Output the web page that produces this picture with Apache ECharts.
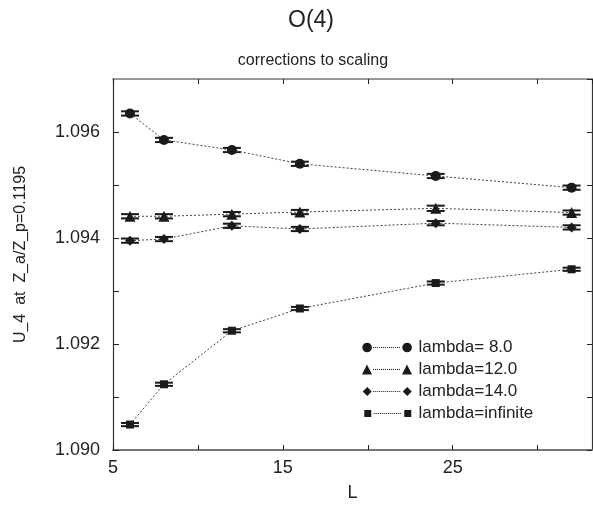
<!DOCTYPE html>
<html>
<head>
	<meta charset="UTF-8">
	<title>O(4) corrections to scaling</title>
	<script src="https://cdn.jsdelivr.net/npm/echarts@6/dist/echarts.min.js"></script>
	<style>
		html, body { margin: 0; padding: 0; background: #fff; }
		#chart { width: 593px; height: 507px; }
	</style>
</head>
<body>
<div id="chart"></div>
<script type="text/javascript">
// lattice sizes
var sizes = [6, 8, 12, 16, 24, 32];
var names = ['lambda= 8.0', 'lambda=12.0', 'lambda=14.0', 'lambda=infinite'];
// U_4 values
var u4Lambda8 = [1.09635, 1.09585, 1.09566, 1.09540, 1.09517, 1.09495];
var u4Lambda12 = [1.09441, 1.09441, 1.09445, 1.09449, 1.09456, 1.09448];
var u4Lambda14 = [1.09395, 1.09398, 1.09423, 1.09417, 1.09428, 1.09420];
var u4LambdaInf = [1.09048, 1.09124, 1.09225, 1.09267, 1.09315, 1.09341];
// error bars (half width)
var err8 = [0.00004, 0.00004, 0.00004, 0.00004, 0.00004, 0.00004];
var err12 = [0.00004, 0.00004, 0.00004, 0.00004, 0.00005, 0.00004];
var err14 = [0.00004, 0.00004, 0.00004, 0.00004, 0.00004, 0.00004];
var errInf = [0.00003, 0.00003, 0.00003, 0.00003, 0.00003, 0.00003];
var xLabels = [5, 15, 25];
var yLabels = ['1.090', '1.092', '1.094', '1.096'];

var values = [u4Lambda8, u4Lambda12, u4Lambda14, u4LambdaInf];
var errors = [err8, err12, err14, errInf];
var symbols = ['circle', 'triangle', 'diamond', 'rect'];
var symbolSizes = [10, 11, 10, 8];
var ink = '#1a1a1a';
var font = 'Liberation Sans, Arial, Helvetica, sans-serif';

// legend icons: marker ---- marker
function dashes() {
	var s = '';
	for (var x = 11; x < 39; x += 2) {
		s += 'M' + x + ',4.6L' + (x + 1) + ',4.6L' + (x + 1) + ',5.4L' + x + ',5.4Z';
	}
	return s;
}
function circ(cx) {
	var s = '';
	for (var i = 0; i < 20; i++) {
		var a = i / 20 * Math.PI * 2;
		s += (i == 0 ? 'M' : 'L') + (cx + 4.8 * Math.cos(a)).toFixed(2) + ',' + (5 + 4.8 * Math.sin(a)).toFixed(2);
	}
	return s + 'Z';
}
var box = 'M0,0L0.01,0ZM0,10L0.01,10Z';
var icons = [
	'path://' + box + circ(5) + dashes() + circ(45),
	'path://' + box + 'M0,10L5,0L10,10Z' + dashes() + 'M40,10L45,0L50,10Z',
	'path://' + box + 'M5,0.5L9.5,5L5,9.5L0.5,5Z' + dashes() + 'M45,0.5L49.5,5L45,9.5L40.5,5Z',
	'path://' + box + 'M1.5,1.5L8.5,1.5L8.5,8.5L1.5,8.5Z' + dashes() + 'M41.5,1.5L48.5,1.5L48.5,8.5L41.5,8.5Z'
];

var series = [];
for (var k = 0; k < 4; k++) {
	var pts = [];
	var bars = [];
	for (var i = 0; i < sizes.length; i++) {
		pts.push([sizes[i], values[k][i]]);
		bars.push([sizes[i], values[k][i], errors[k][i]]);
	}
	series.push({
		name: names[k] + ' err',
		type: 'custom',
		z: 2,
		silent: true,
		renderItem: function (params, api) {
			var x = api.value(0), y = api.value(1), e = api.value(2);
			var hi = api.coord([x, y + e]);
			var lo = api.coord([x, y - e]);
			var st = { stroke: ink, lineWidth: 2 };
			return {
				type: 'group',
				children: [
					{ type: 'line', shape: { x1: hi[0], y1: hi[1], x2: lo[0], y2: lo[1] }, style: st },
					{ type: 'line', shape: { x1: hi[0] - 9, y1: hi[1], x2: hi[0] + 9, y2: hi[1] }, style: st },
					{ type: 'line', shape: { x1: lo[0] - 9, y1: lo[1], x2: lo[0] + 9, y2: lo[1] }, style: st }
				]
			};
		},
		data: bars
	});
	series.push({
		name: names[k],
		type: 'line',
		z: 3,
		symbol: symbols[k],
		symbolSize: symbolSizes[k],
		showAllSymbol: true,
		itemStyle: { color: ink },
		lineStyle: { color: '#444', width: 1, type: [2, 2] },
		data: pts
	});
}

var chart = echarts.init(document.getElementById('chart'));
var option = {
	backgroundColor: '#fff',
	animation: false,
	title: [
		{ text: 'O(4)', left: 306, top: 4, textAlign: 'center',
		  textStyle: { fontFamily: font, fontSize: 23, fontWeight: 'normal', color: '#222' } },
		{ text: 'corrections to scaling', left: 308, top: 48, textAlign: 'center',
		  textStyle: { fontFamily: font, fontSize: 16, fontWeight: 'normal', color: '#222' } }
	],
	grid: { left: 113, right: 1, top: 79, bottom: 52, containLabel: false },
	legend: {
		orient: 'vertical',
		left: 357,
		top: 334,
		itemWidth: 51,
		itemHeight: 10,
		itemGap: 5,
		data: names.map(function (n, i) { return { name: n, icon: icons[i] }; }),
		itemStyle: { color: ink, borderWidth: 0 },
		lineStyle: { width: 0 },
		textStyle: { fontFamily: font, fontSize: 17, color: '#222', padding: [0, 0, 0, 1] }
	},
	xAxis: [{
		type: 'value',
		min: 5,
		max: 33.2,
		interval: 5,
		name: 'L',
		nameLocation: 'middle',
		nameGap: 34,
		nameTextStyle: { fontFamily: font, fontSize: 18, color: '#222' },
		axisLine: { onZero: false, lineStyle: { color: '#777', width: 2 } },
		axisTick: { inside: true, length: 5, lineStyle: { color: '#222', width: 1 } },
		axisLabel: {
			margin: 9,
			fontFamily: font, fontSize: 18, color: '#222',
			showMaxLabel: false,
			formatter: function (v) { return xLabels.indexOf(Math.round(v)) >= 0 && Math.abs(v - Math.round(v)) < 1e-6 ? String(Math.round(v)) : ''; }
		},
		splitLine: { show: false }
	}, {
		type: 'value',
		position: 'top',
		min: 5,
		max: 33.2,
		interval: 5,
		axisLine: { onZero: false, lineStyle: { color: '#777', width: 1.5 } },
		axisTick: { inside: true, length: 5, lineStyle: { color: '#222', width: 1 } },
		axisLabel: { show: false },
		splitLine: { show: false }
	}],
	yAxis: [{
		type: 'value',
		min: 1.090,
		max: 1.097,
		interval: 0.001,
		name: 'U_4  at  Z_a/Z_p=0.1195',
		nameLocation: 'middle',
		nameGap: 84,
		nameTextStyle: { fontFamily: font, fontSize: 16, color: '#222', padding: [0, 0, 0, 20] },
		axisLine: { onZero: false, lineStyle: { color: '#333', width: 1.2 } },
		axisTick: { inside: true, length: 6, lineStyle: { color: '#222', width: 1 } },
		axisLabel: {
			margin: 13,
			fontFamily: font, fontSize: 18, color: '#222',
			showMaxLabel: false,
			formatter: function (v) {
				var s = v.toFixed(3);
				return yLabels.indexOf(s) >= 0 ? s : '';
			}
		},
		splitLine: { show: false }
	}, {
		type: 'value',
		position: 'right',
		min: 1.090,
		max: 1.097,
		interval: 0.001,
		axisLine: { onZero: false, lineStyle: { color: '#333', width: 1.2 } },
		axisTick: { inside: true, length: 5, lineStyle: { color: '#222', width: 1 } },
		axisLabel: { show: false },
		splitLine: { show: false }
	}],
	series: series
};
chart.setOption(option);
</script>
</body>
</html>
